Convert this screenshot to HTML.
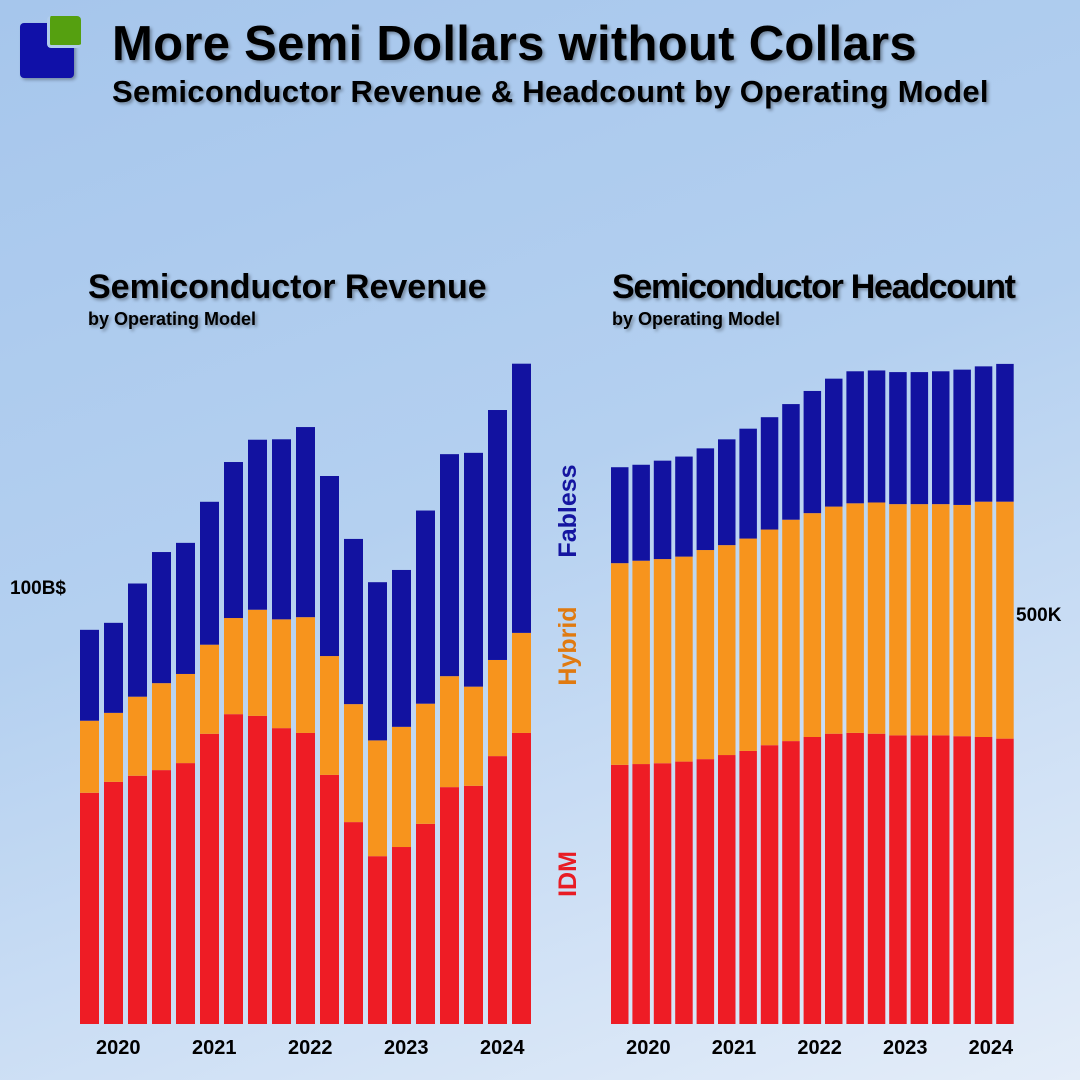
<!DOCTYPE html>
<html><head><meta charset="utf-8"><style>
html,body{margin:0;padding:0}
body{width:1080px;height:1080px;overflow:hidden;position:relative;font-family:"Liberation Sans",sans-serif;
background:linear-gradient(160deg,#a6c6ec 0%,#b4d0f0 45%,#e4edf9 100%);}
.t{position:absolute;color:#000;text-shadow:2px 2px 3px rgba(0,0,0,0.35);font-weight:bold;white-space:nowrap}
</style></head><body>
<div>
<div style="position:absolute;left:20px;top:23px;width:54px;height:55px;background:#1010a8;border-radius:4px;box-shadow:2px 2px 3px rgba(0,0,0,.3)"></div>
<div style="position:absolute;left:47px;top:16px;width:31px;height:29px;background:#55a010;border-radius:4px;border-left:3px solid #b0ccec;border-bottom:3px solid #b0ccec"></div>
</div>
<div class="t" style="left:112px;top:16px;font-size:49px;letter-spacing:0.3px">More Semi Dollars without Collars</div>
<div class="t" style="left:112px;top:74px;font-size:31px;letter-spacing:0.3px">Semiconductor Revenue &amp; Headcount by Operating Model</div>
<div class="t" style="left:88px;top:268px;font-size:34px;letter-spacing:0px">Semiconductor Revenue</div>
<div class="t" style="left:88px;top:309px;font-size:18px">by Operating Model</div>
<div class="t" style="left:612px;top:268px;font-size:34px;letter-spacing:-1.3px">Semiconductor Headcount</div>
<div class="t" style="left:612px;top:309px;font-size:18px">by Operating Model</div>
<svg id="chart" width="1080" height="1080" style="position:absolute;left:0;top:0">
<g font-family="Liberation Sans, sans-serif" font-weight="bold">
<text x="576" y="511" transform="rotate(-90 576 511)" text-anchor="middle" font-size="25" fill="#1515a0">Fabless</text>
<text x="576" y="646" transform="rotate(-90 576 646)" text-anchor="middle" font-size="25" fill="#e07a10">Hybrid</text>
<text x="576" y="874" transform="rotate(-90 576 874)" text-anchor="middle" font-size="25" fill="#e81c24">IDM</text>
</g>
</svg>
<script>
const revIDM=[52.9,55.4,56.8,58.1,59.7,66.4,70.9,70.5,67.7,66.6,57.0,46.2,38.4,40.5,45.8,54.2,54.5,61.3,66.6];
const revHybrid=[16.5,15.8,18.1,19.9,20.4,20.4,22.0,24.3,24.9,26.5,27.2,27.0,26.5,27.5,27.5,25.4,22.7,22.0,22.9];
const revFabless=[20.8,20.6,25.9,30.0,30.0,32.7,35.7,38.9,41.2,43.5,41.2,37.8,36.2,35.9,44.2,50.8,53.5,57.2,61.6];
const hcIDM=[316,317,318,320,323,328,333,340,345,350,354,355,354,352,352,352,351,350,348];
const hcHybrid=[246,248,249,250,255,256,259,263,270,273,277,280,282,282,282,282,282,287,289];
const hcFabless=[117,117,120,122,124,129,134,137,141,149,156,161,161,161,161,162,165,165,168];
const years=["2020","2021","2022","2023","2024"];
const yearIndex=[1.2,5.2,9.2,13.2,17.2];
const revTick=[100];const revTickLabel=["100B$"];
const hcTick=[500];const hcTickLabel=["500K"];
const svg=document.getElementById('chart');
const NS='http://www.w3.org/2000/svg';
const base=1024;
function mk(tag,attrs){const e=document.createElementNS(NS,tag);for(const k in attrs)e.setAttribute(k,attrs[k]);svg.appendChild(e);return e;}
function drawChart(cfg){
  const x=i=>cfg.x0+cfg.pitch*i;
  const y=v=>base-v*cfg.scale;
  const cols=['#ee1c25','#f7941d','#1212a0'];const names=['idm','hybrid','fabless'];
  cfg.series[0].forEach((_,i)=>{
    let acc=0;
    cfg.series.forEach((s,k)=>{
      const top=y(acc+s[i]),bot=y(acc);
      const r=mk('rect',{x:x(i),y:top,width:cfg.bw,height:bot-top,fill:cols[k]});
      
      
      acc+=s[i];
    });
  });
  years.forEach((yr,j)=>{
    const t=mk('text',{x:x(yearIndex[j])+cfg.bw/2+cfg.yoff,y:1054,'text-anchor':'middle','font-size':20,'font-weight':'bold','font-family':'Liberation Sans, sans-serif',fill:'#000'});
    t.textContent=yr;
    
    
  });
  cfg.ticks.forEach((v,j)=>{
    const t=mk('text',{x:cfg.tickX,y:y(v)+7,'font-size':19,'font-weight':'bold','font-family':'Liberation Sans, sans-serif',fill:'#000','text-anchor':'start'});
    t.textContent=cfg.tickLabels[j];
    
    
  });
}
drawChart({name:'revenue',x0:80,pitch:24,bw:19,scale:4.37,series:[revIDM,revHybrid,revFabless],ticks:revTick,tickLabels:revTickLabel,tickX:10,yoff:0});
drawChart({name:'headcount',x0:611,pitch:21.4,bw:17.5,scale:0.82,series:[hcIDM,hcHybrid,hcFabless],ticks:hcTick,tickLabels:hcTickLabel,tickX:1016,yoff:3});
</script>
</body></html>
